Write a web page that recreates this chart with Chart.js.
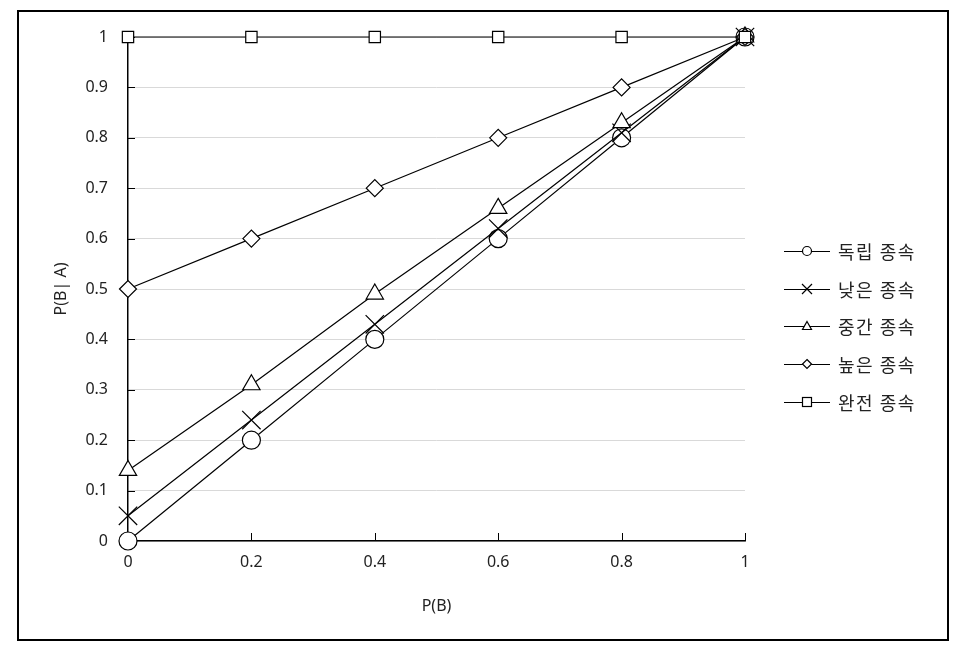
<!DOCTYPE html>
<html>
<head>
<meta charset="utf-8">
<script src="https://cdn.jsdelivr.net/npm/chart.js@4.4.0/dist/chart.umd.min.js"></script>
<style>
  body { margin: 0; background: #fff; }
  #wrap { position: relative; width: 967px; height: 650px; }
  #frame { position: absolute; left: 17px; top: 10px; width: 932px; height: 631px; border: 2px solid #000; box-sizing: border-box; pointer-events: none; }
  #legend { position: absolute; left: 784px; top: 232px; font-family: "Noto Sans CJK KR", sans-serif; font-size: 18px; letter-spacing: 1.5px; color: #222; }
  .item { height: 37.8px; display: flex; align-items: center; }
  .item svg { margin-right: 8px; }
</style>
</head>
<body>
<div id="wrap">
  <canvas id="myChart" width="967" height="650"></canvas>
  <div id="frame"></div>
  <div id="legend"></div>
</div>
<script>
// values
const pB = [0, 0.2, 0.4, 0.6, 0.8, 1];
const independent = [0, 0.2, 0.4, 0.6, 0.8, 1];
const lowDep = [0.05, 0.24, 0.43, 0.62, 0.81, 1];
const midDep = [0.14, 0.31, 0.49, 0.66, 0.83, 1];
const highDep = [0.5, 0.6, 0.7, 0.8, 0.9, 1];
const fullDep = [1, 1, 1, 1, 1, 1];
const names = ['독립 종속', '낮은 종속', '중간 종속', '높은 종속', '완전 종속'];
const markers = ['circle', 'crossRot', 'triangle', 'rectRot', 'rect'];
const markerSize = [9, 13, 10, 8.5, 8];
const allSeries = [independent, lowDep, midDep, highDep, fullDep];

const ctx = document.getElementById('myChart');

const datasets = allSeries.map((vals, k) => ({
  label: names[k],
  data: vals.map((v, j) => ({x: pB[j], y: v})),
  showLine: true,
  clip: false,
  borderColor: '#000',
  borderWidth: 1.2,
  backgroundColor: '#fff',
  pointStyle: markers[k],
  pointRadius: markerSize[k],
  pointBorderWidth: 1.2,
  pointBackgroundColor: '#fff',
  pointBorderColor: '#000',
  order: 5 - k
}));

// excel style tick marks pointing inside the plot
const innerTicks = {
  id: 'innerTicks',
  beforeDatasetsDraw(chart) {
    const {ctx, chartArea: a, scales: {x, y}} = chart;
    ctx.save();
    ctx.strokeStyle = '#000';
    ctx.lineWidth = 1;
    ctx.beginPath();
    y.ticks.forEach(t => {
      const py = Math.round(y.getPixelForValue(t.value)) + 0.5;
      ctx.moveTo(a.left, py);
      ctx.lineTo(a.left + 7, py);
    });
    x.ticks.forEach(t => {
      const px = Math.round(x.getPixelForValue(t.value)) + 0.5;
      ctx.moveTo(px, a.bottom);
      ctx.lineTo(px, a.bottom - 8);
    });
    ctx.stroke();
    ctx.restore();
  }
};

const tickFont = {family: '"Noto Sans", sans-serif', size: 16};
const fmt = v => String(+v.toFixed(1));

const myChart = new Chart(ctx, {
  type: 'scatter',
  data: {datasets: datasets},
  options: {
    responsive: false,
    animation: false,
    layout: {padding: {top: 37, right: 222, left: 0, bottom: 0}},
    plugins: {legend: {display: false}, tooltip: {enabled: false}},
    scales: {
      x: {
        type: 'linear', min: 0, max: 1,
        ticks: {stepSize: 0.2, font: tickFont, color: '#222', padding: 12, callback: fmt},
        grid: {display: false, drawTicks: false},
        border: {display: true, color: '#000', width: 1.5},
        title: {display: true, text: 'P(B)', font: tickFont, color: '#222', padding: {top: 0, bottom: 34}},
        afterFit: s => { s.height = 109; }
      },
      y: {
        type: 'linear', min: 0, max: 1,
        ticks: {stepSize: 0.1, font: tickFont, color: '#222', padding: 20, callback: fmt},
        grid: {color: '#d9d9d9', lineWidth: 1, drawTicks: false},
        border: {display: true, color: '#000', width: 1.5},
        title: {display: true, text: 'P(B| A)', font: tickFont, color: '#222', padding: {top: 52, bottom: 0}},
        afterFit: s => { s.width = 128; }
      }
    }
  },
  plugins: [innerTicks]
});

// legend: line with marker in the middle, like the spreadsheet one
function legendIcon(style) {
  const c = 'stroke="#000" stroke-width="1.2" fill="#fff"';
  let m = '';
  if (style === 'circle') m = `<circle cx="23" cy="10" r="4.5" ${c}/>`;
  if (style === 'crossRot') m = `<path d="M18 5 L28 15 M28 5 L18 15" ${c}/>`;
  if (style === 'triangle') m = `<path d="M23 5.5 L27.5 13.5 L18.5 13.5 Z" ${c}/>`;
  if (style === 'rectRot') m = `<path d="M23 5.5 L27.5 10 L23 14.5 L18.5 10 Z" ${c}/>`;
  if (style === 'rect') m = `<rect x="18.5" y="5.5" width="9" height="9" ${c}/>`;
  return `<svg width="46" height="20"><line x1="0" y1="10.5" x2="46" y2="10.5" stroke="#000" stroke-width="1.2"/>${m}</svg>`;
}
const legendBox = document.getElementById('legend');
names.forEach((n, k) => {
  const d = document.createElement('div');
  d.className = 'item';
  d.innerHTML = legendIcon(markers[k]) + '<span>' + n + '</span>';
  legendBox.appendChild(d);
});
</script>
</body>
</html>
